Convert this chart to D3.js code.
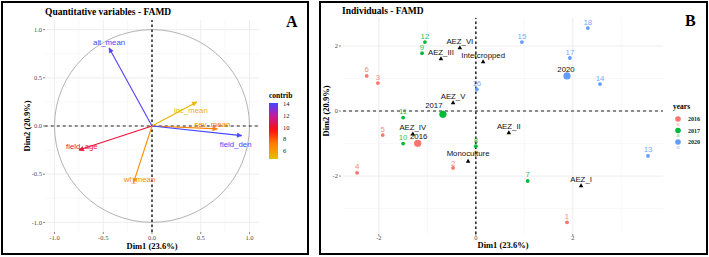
<!DOCTYPE html>
<html lang="en">
<head>
    <meta charset="UTF-8">
    <title>FAMD</title>
    <style>
        body { margin: 0; padding: 0; background: white; overflow: hidden; }
        text { font-family: "Liberation Serif", "Times New Roman", serif; }
        .lbl { font-family: "Liberation Sans", Arial, sans-serif; }
    </style>
</head>
<body>
    <svg id="chart" width="709" height="257"></svg>
    <script src="https://d3js.org/d3.v7.min.js"></script>
    <script>
        // --- panel A : variables ---
        const varNames = ["alt_mean", "inc_mean", "sev_mean", "field_den", "field_age", "wf_mean"];
        const varDim1 = [-0.44, 0.46, 0.67, 0.92, -0.75, -0.19];
        const varDim2 = [0.81, 0.25, -0.03, -0.10, -0.25, -0.59];
        const varContrib = [14.0, 4.9, 7.2, 14.2, 10.3, 6.6];
        const aTicks = [-1.0, -0.5, 0.0, 0.5, 1.0];
        const contribTicks = [6, 8, 10, 12, 14];

        // --- panel B : individuals ---
        const indNames = ["1","2","3","4","5","6","7","8","9","10","11","12","13","14","15","16","17","18"];
        const indYear = ["2016","2016","2016","2016","2016","2016","2017","2017","2017","2017","2017","2017",
                         "2020","2020","2020","2020","2020","2020"];
        const indDim1 = [1.88, -0.47, -2.02, -2.45, -1.92, -2.25, 1.07, 0.00, -1.11, -1.50, -1.50, -1.05,
                         3.55, 2.56, 0.95, 0.02, 1.94, 2.31];
        const indDim2 = [-3.42, -1.75, 0.86, -1.90, -0.74, 1.08, -2.15, -1.08, 1.78, -1.00, -0.20, 2.12,
                         -1.38, 0.83, 2.12, 0.67, 1.63, 2.55];
        const years = ["2016", "2017", "2020"];
        const yearDim1 = [-1.20, -0.68, 1.88];
        const yearDim2 = [-0.99, -0.10, 1.08];
        const catNames = ["AEZ_VI", "AEZ_III", "Intercropped", "AEZ_V", "AEZ_IV", "AEZ_II", "Monoculture", "AEZ_I"];
        const catDim1 = [-0.33, -0.72, 0.15, -0.47, -1.30, 0.68, -0.16, 2.17];
        const catDim2 = [1.94, 1.60, 1.51, 0.25, -0.71, -0.67, -1.55, -2.30];
        const bTicks = [-2, 0, 2];

        const svg = d3.select("#chart");
        const GRID = "#ebebeb";
        const TICK = "#4d4d4d";
        const LBL_SIZE = "7.8px";

        // frames
        svg.append("rect").attr("x", 2).attr("y", 2).attr("width", 306).attr("height", 252)
            .attr("fill", "none").attr("stroke", "black").attr("stroke-width", 2);
        svg.append("rect").attr("x", 320).attr("y", 2).attr("width", 387).attr("height", 252)
            .attr("fill", "none").attr("stroke", "black").attr("stroke-width", 2);

        // ================= panel A =================
        const xA = d3.scaleLinear().domain([-1.1, 1.1]).range([44.75, 259.25]);
        const yA = d3.scaleLinear().domain([-1.1, 1.1]).range([232, 20]);
        const gA = svg.append("g");

        const minorA = [-0.75, -0.25, 0.25, 0.75];
        gA.selectAll(".vminA").data(minorA).enter().append("line")
            .attr("x1", d => xA(d)).attr("x2", d => xA(d)).attr("y1", yA(-1.1)).attr("y2", yA(1.1))
            .attr("stroke", "#f4f4f4").attr("stroke-width", 0.6);
        gA.selectAll(".hminA").data(minorA).enter().append("line")
            .attr("y1", d => yA(d)).attr("y2", d => yA(d)).attr("x1", xA(-1.1)).attr("x2", xA(1.1))
            .attr("stroke", "#f4f4f4").attr("stroke-width", 0.6);
        gA.selectAll(".vgA").data(aTicks).enter().append("line")
            .attr("x1", d => xA(d)).attr("x2", d => xA(d)).attr("y1", yA(-1.1)).attr("y2", yA(1.1))
            .attr("stroke", GRID).attr("stroke-width", 0.9);
        gA.selectAll(".hgA").data(aTicks).enter().append("line")
            .attr("y1", d => yA(d)).attr("y2", d => yA(d)).attr("x1", xA(-1.1)).attr("x2", xA(1.1))
            .attr("stroke", GRID).attr("stroke-width", 0.9);

        // unit circle
        gA.append("ellipse").attr("cx", xA(0)).attr("cy", yA(0))
            .attr("rx", xA(1) - xA(0)).attr("ry", yA(0) - yA(1))
            .attr("fill", "none").attr("stroke", "#b3b3b3").attr("stroke-width", 1);

        // dashed zero lines
        gA.append("line").attr("x1", xA(-1.1)).attr("x2", xA(1.1)).attr("y1", yA(0)).attr("y2", yA(0))
            .attr("stroke", "#222").attr("stroke-width", 1.1).attr("stroke-dasharray", "3,3");
        gA.append("line").attr("x1", xA(0)).attr("x2", xA(0)).attr("y1", yA(-1.1)).attr("y2", yA(1.1))
            .attr("stroke", "#222").attr("stroke-width", 1.5).attr("stroke-dasharray", "2.5,2.5");

        // axis ticks + labels
        gA.selectAll(".xtA").data(aTicks).enter().append("text")
            .attr("x", d => xA(d)).attr("y", 240).attr("text-anchor", "middle")
            .attr("font-size", "6.5px").attr("fill", TICK).text(d => d.toFixed(1));
        gA.selectAll(".xtmA").data(aTicks).enter().append("line")
            .attr("x1", d => xA(d)).attr("x2", d => xA(d)).attr("y1", 232).attr("y2", 234)
            .attr("stroke", "#333").attr("stroke-width", 0.6);
        gA.selectAll(".ytA").data(aTicks).enter().append("text")
            .attr("x", 42).attr("y", d => yA(d) + 2.2).attr("text-anchor", "end")
            .attr("font-size", "6.5px").attr("fill", TICK).text(d => d.toFixed(1));
        gA.selectAll(".ytmA").data(aTicks).enter().append("line")
            .attr("x1", 43).attr("x2", 45).attr("y1", d => yA(d)).attr("y2", d => yA(d))
            .attr("stroke", "#333").attr("stroke-width", 0.6);

        gA.append("text").attr("x", 152).attr("y", 249).attr("text-anchor", "middle")
            .attr("font-size", "8.5px").attr("font-weight", "bold").text("Dim1 (23.6%)");
        gA.append("text").attr("transform", "translate(30,126) rotate(-90)").attr("text-anchor", "middle")
            .attr("font-size", "8.5px").attr("font-weight", "bold").text("Dim2 (20.9%)");
        gA.append("text").attr("x", 45).attr("y", 15).attr("font-size", "9.5px").attr("font-weight", "bold")
            .text("Quantitative variables - FAMD");
        gA.append("text").attr("x", 286).attr("y", 27).attr("font-size", "16px").attr("font-weight", "bold")
            .text("A");

        // contrib colour scale
        const contribColor = d3.scaleLinear()
            .domain([4.6, 7.3, 9.6, 12.0, 14.2])
            .range(["#e7bc00", "#ff7d00", "#ff0d0d", "#c21aa0", "#4545ff"]);
        const barScale = d3.scaleLinear().domain([4.6, 14.2]).range([159, 103]);

        // arrows
        const arrowG = gA.append("g");
        const labelNudge = {
            alt_mean: [0, -6], inc_mean: [-6, 8], sev_mean: [-5, -5],
            field_den: [-6, 8], field_age: [3, -4], wf_mean: [6, -4]
        };
        varNames.forEach(function(name, i) {
            const x1 = xA(varDim1[i]), y1 = yA(varDim2[i]);
            const x0 = xA(0), y0 = yA(0);
            const col = contribColor(varContrib[i]);
            const ang = Math.atan2(y1 - y0, x1 - x0);
            arrowG.append("line").attr("x1", x0).attr("y1", y0).attr("x2", x1).attr("y2", y1)
                .attr("stroke", col).attr("stroke-width", 1.1);
            const L = 5, W = 0.45;
            const p = [
                [x1, y1],
                [x1 - L * Math.cos(ang - W), y1 - L * Math.sin(ang - W)],
                [x1 - L * Math.cos(ang + W), y1 - L * Math.sin(ang + W)]
            ];
            arrowG.append("path").attr("d", "M" + p.map(q => q.join(",")).join("L") + "Z")
                .attr("fill", col).attr("stroke", col).attr("stroke-width", 0.5);
            const nd = labelNudge[name];
            arrowG.append("text").attr("class", "lbl")
                .attr("x", x1 + nd[0]).attr("y", y1 + nd[1] + 3)
                .attr("text-anchor", "middle").attr("font-size", LBL_SIZE).attr("fill", col)
                .text(name);
        });

        // contrib legend
        const grad = svg.append("defs").append("linearGradient").attr("id", "cgrad")
            .attr("x1", 0).attr("x2", 0).attr("y1", 1).attr("y2", 0);
        d3.range(0, 1.0001, 0.05).forEach(function(t) {
            const v = 4.6 + t * (14.2 - 4.6);
            grad.append("stop").attr("offset", t).attr("stop-color", contribColor(v));
        });
        gA.append("text").attr("x", 269).attr("y", 98).attr("font-size", "7.5px").attr("font-weight", "bold")
            .text("contrib");
        gA.append("rect").attr("x", 269).attr("y", 103).attr("width", 9).attr("height", 56)
            .attr("fill", "url(#cgrad)");
        gA.selectAll(".ctk").data(contribTicks).enter().append("text")
            .attr("x", 283).attr("y", d => barScale(d) + 2.2).attr("font-size", "6.5px").attr("fill", "#222")
            .text(d => d);

        // ================= panel B =================
        const xB = d3.scaleLinear().domain([-2.74, 3.86]).range([343, 663]);
        const yB = d3.scaleLinear().domain([-3.78, 2.86]).range([234, 18]);
        const gB = svg.append("g");
        const yearColor = d3.scaleOrdinal().domain(years).range(["#F8766D", "#00BA38", "#619CFF"]);

        const minorBx = [-1, 1, 3], minorBy = [-3, -1, 1];
        gB.selectAll(".vminB").data(minorBx).enter().append("line")
            .attr("x1", d => xB(d)).attr("x2", d => xB(d)).attr("y1", yB(-3.78)).attr("y2", yB(2.86))
            .attr("stroke", "#f4f4f4").attr("stroke-width", 0.6);
        gB.selectAll(".hminB").data(minorBy).enter().append("line")
            .attr("y1", d => yB(d)).attr("y2", d => yB(d)).attr("x1", xB(-2.74)).attr("x2", xB(3.86))
            .attr("stroke", "#f4f4f4").attr("stroke-width", 0.6);
        gB.selectAll(".vgB").data(bTicks).enter().append("line")
            .attr("x1", d => xB(d)).attr("x2", d => xB(d)).attr("y1", yB(-3.78)).attr("y2", yB(2.86))
            .attr("stroke", GRID).attr("stroke-width", 0.9);
        gB.selectAll(".hgB").data(bTicks).enter().append("line")
            .attr("y1", d => yB(d)).attr("y2", d => yB(d)).attr("x1", xB(-2.74)).attr("x2", xB(3.86))
            .attr("stroke", GRID).attr("stroke-width", 0.9);

        gB.append("line").attr("x1", xB(-2.74)).attr("x2", xB(3.86)).attr("y1", yB(0)).attr("y2", yB(0))
            .attr("stroke", "#222").attr("stroke-width", 1.1).attr("stroke-dasharray", "3,3");
        gB.append("line").attr("x1", xB(0)).attr("x2", xB(0)).attr("y1", yB(-3.78)).attr("y2", yB(2.86))
            .attr("stroke", "#222").attr("stroke-width", 1.5).attr("stroke-dasharray", "2.5,2.5");

        gB.selectAll(".xtB").data(bTicks).enter().append("text")
            .attr("x", d => xB(d)).attr("y", 240).attr("text-anchor", "middle")
            .attr("font-size", "6.5px").attr("fill", TICK).text(d => d);
        gB.selectAll(".xtmB").data(bTicks).enter().append("line")
            .attr("x1", d => xB(d)).attr("x2", d => xB(d)).attr("y1", 234).attr("y2", 236)
            .attr("stroke", "#333").attr("stroke-width", 0.6);
        gB.selectAll(".ytB").data(bTicks).enter().append("text")
            .attr("x", 338).attr("y", d => yB(d) + 2.2).attr("text-anchor", "end")
            .attr("font-size", "6.5px").attr("fill", TICK).text(d => d);
        gB.selectAll(".ytmB").data(bTicks).enter().append("line")
            .attr("x1", 339).attr("x2", 341).attr("y1", d => yB(d)).attr("y2", d => yB(d))
            .attr("stroke", "#333").attr("stroke-width", 0.6);

        gB.append("text").attr("x", 503).attr("y", 248).attr("text-anchor", "middle")
            .attr("font-size", "8.5px").attr("font-weight", "bold").text("Dim1 (23.6%)");
        gB.append("text").attr("transform", "translate(329,111) rotate(-90)").attr("text-anchor", "middle")
            .attr("font-size", "8.5px").attr("font-weight", "bold").text("Dim2 (20.9%)");
        gB.append("text").attr("x", 342).attr("y", 14).attr("font-size", "9.5px").attr("font-weight", "bold")
            .text("Individuals - FAMD");
        gB.append("text").attr("x", 685).attr("y", 26).attr("font-size", "16px").attr("font-weight", "bold")
            .text("B");

        // categories (black triangles)
        const tri = d3.symbol().type(d3.symbolTriangle).size(9);
        const catNudge = { Monoculture: -1.5 };
        catNames.forEach(function(name, i) {
            const x = xB(catDim1[i]), y = yB(catDim2[i]);
            gB.append("path").attr("d", tri).attr("transform", "translate(" + x + "," + y + ")").attr("fill", "black");
            gB.append("text").attr("class", "lbl").attr("x", x).attr("y", y - 4 + (catNudge[name] || 0))
                .attr("text-anchor", "middle").attr("font-size", LBL_SIZE).attr("fill", "#111").text(name);
        });

        // individuals
        const indNudge = { "2": 1.5 };
        indNames.forEach(function(name, i) {
            const x = xB(indDim1[i]), y = yB(indDim2[i]);
            const col = yearColor(indYear[i]);
            gB.append("circle").attr("cx", x).attr("cy", y).attr("r", 1.9).attr("fill", col);
            gB.append("text").attr("class", "lbl").attr("x", x).attr("y", y - 3.5 + (indNudge[name] || 0))
                .attr("text-anchor", "middle").attr("font-size", LBL_SIZE).attr("fill", col)
                .attr("opacity", 0.85).text(name);
        });

        // year centroids
        const centNudge = { "2016": [1, 0], "2017": [-9, -2], "2020": [-1, 0] };
        years.forEach(function(yr, i) {
            const x = xB(yearDim1[i]), y = yB(yearDim2[i]);
            gB.append("circle").attr("cx", x).attr("cy", y).attr("r", 3.6).attr("fill", yearColor(yr));
            gB.append("text").attr("class", "lbl").attr("x", x + centNudge[yr][0]).attr("y", y - 4 + centNudge[yr][1])
                .attr("text-anchor", "middle").attr("font-size", LBL_SIZE).attr("fill", "#111").text(yr);
        });

        // years legend
        gB.append("text").attr("x", 673).attr("y", 109).attr("font-size", "7.5px").attr("font-weight", "bold")
            .text("years");
        years.forEach(function(yr, i) {
            const cy = 119 + i * 11.5;
            gB.append("circle").attr("cx", 678).attr("cy", cy).attr("r", 2.8).attr("fill", yearColor(yr));
            gB.append("text").attr("class", "lbl").attr("x", 678).attr("y", cy + 6.5).attr("text-anchor", "middle")
                .attr("font-size", "6px").attr("fill", yearColor(yr)).attr("opacity", 0.5).text("a");
            gB.append("text").attr("x", 688).attr("y", cy + 2.2).attr("font-size", "6px").attr("font-weight", "bold")
                .attr("fill", "#222").text(yr);
        });
    </script>
</body>
</html>
